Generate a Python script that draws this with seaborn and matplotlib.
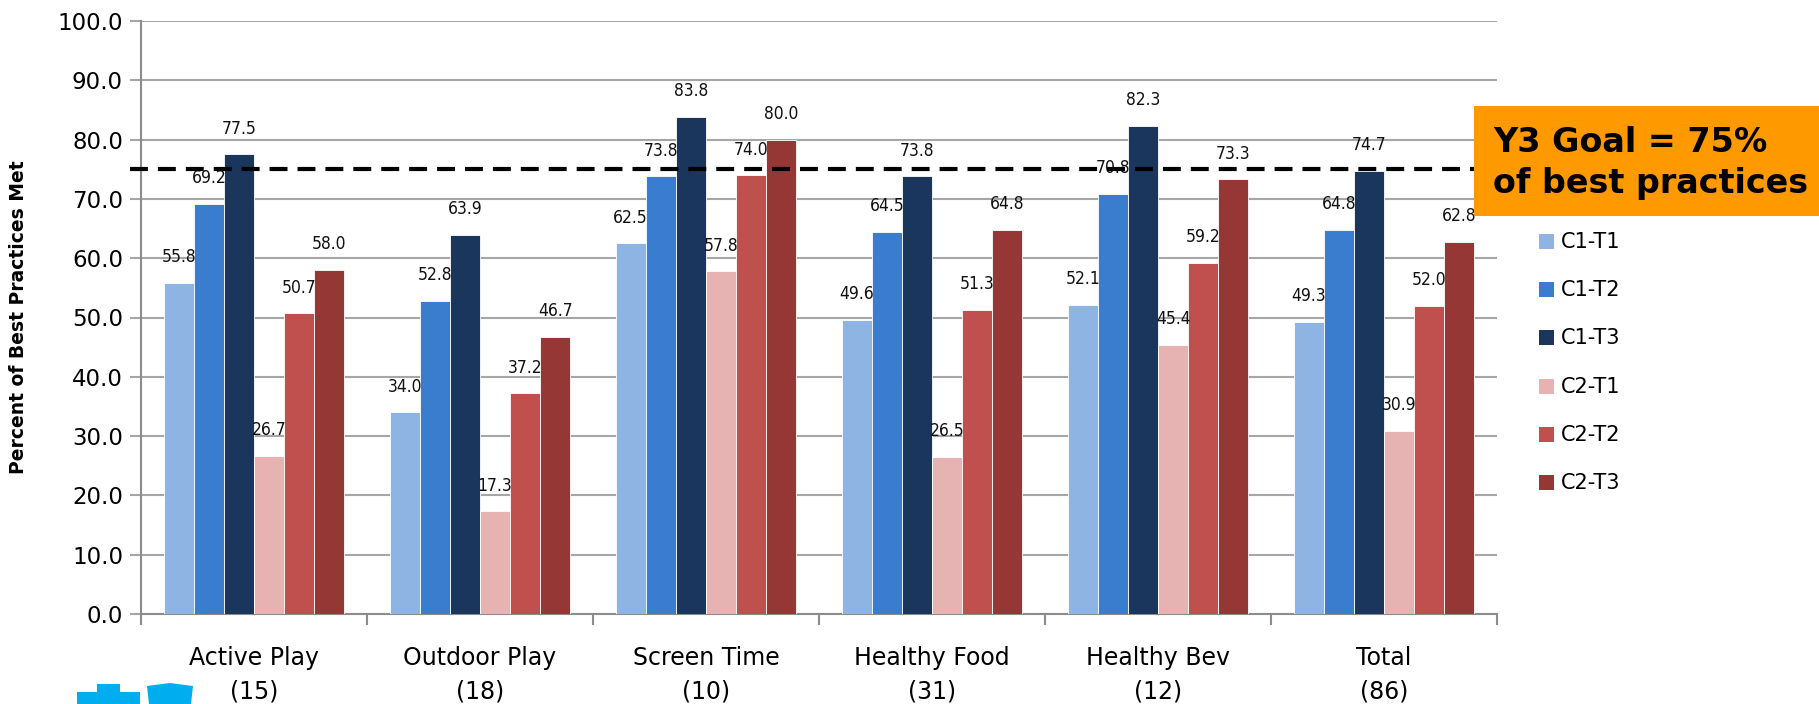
import matplotlib
matplotlib.use("Agg")
import matplotlib.pyplot as plt
from matplotlib.patches import Polygon, Rectangle
import seaborn as sns
import pandas as pd

categories = ["Active Play\n(15)", "Outdoor Play\n(18)", "Screen Time\n(10)",
              "Healthy Food\n(31)", "Healthy Bev\n(12)", "Total\n(86)"]
series = ["C1-T1", "C1-T2", "C1-T3", "C2-T1", "C2-T2", "C2-T3"]
c1_t1 = [55.8, 34.0, 62.5, 49.6, 52.1, 49.3]
c1_t2 = [69.2, 52.8, 73.8, 64.5, 70.8, 64.8]
c1_t3 = [77.5, 63.9, 83.8, 73.8, 82.3, 74.7]
c2_t1 = [26.7, 17.3, 57.8, 26.5, 45.4, 30.9]
c2_t2 = [50.7, 37.2, 74.0, 51.3, 59.2, 52.0]
c2_t3 = [58.0, 46.7, 80.0, 64.8, 73.3, 62.8]
goal = 75.0
palette = ["#8EB4E3", "#3A7DCE", "#1A365D", "#E6B3B2", "#C0504D", "#953735"]

rows = []
for name, vals in zip(series, [c1_t1, c1_t2, c1_t3, c2_t1, c2_t2, c2_t3]):
    for cat, v in zip(categories, vals):
        rows.append({"category": cat, "series": name, "value": v})
df = pd.DataFrame(rows)

sns.set_theme(style="white")
plt.rcParams["font.family"] = ["DejaVu Sans"]
plt.rcParams["text.color"] = "black"
plt.rcParams["axes.labelcolor"] = "black"
plt.rcParams["xtick.labelcolor"] = "black"
plt.rcParams["ytick.labelcolor"] = "black"

W, H = 1819, 704
fig = plt.figure(figsize=(W / 100, H / 100), dpi=100)
ax = fig.add_axes([141 / W, 1 - 614 / H, (1497 - 141) / W, (614 - 21) / H])

sns.barplot(data=df, x="category", y="value", hue="series", order=categories,
            hue_order=series, palette=palette, width=0.8, saturation=1,
            edgecolor="white", linewidth=0.6, ax=ax, legend=False, zorder=3)

for cont in ax.containers:
    ax.bar_label(cont, fmt="%.1f", padding=12, fontsize=12.5, color="#111111",
                 fontstretch="condensed", family=["DejaVu Sans"])

ax.set_ylim(0, 100)
ax.set_xlim(-0.5, len(categories) - 0.5)
ax.set_yticks(range(0, 101, 10))
ax.set_yticklabels([f"{t:.1f}" for t in range(0, 101, 10)], fontsize=16.5)
ax.yaxis.grid(True, color="#A6A6A6", linewidth=1.5, zorder=0)
ax.xaxis.grid(False)
for side in ["top", "right"]:
    ax.spines[side].set_visible(False)
for side in ["left", "bottom"]:
    ax.spines[side].set_color("#8C8C8C")
    ax.spines[side].set_linewidth(1.5)
ax.tick_params(axis="y", which="major", left=True, length=8, width=1.5,
               color="#A6A6A6", pad=5, labelcolor="black")
ax.tick_params(axis="x", which="major", bottom=False, labelsize=17, pad=17,
               labelcolor="black")
for lbl in ax.get_xticklabels():
    lbl.set_linespacing(1.5)
ax.set_xticks([i - 0.5 for i in range(len(categories) + 1)], minor=True)
ax.tick_params(axis="x", which="minor", bottom=True, length=8, width=1.5,
               color="#8C8C8C")
ax.set_xlabel("")
ax.set_ylabel("Percent of Best Practices Met", fontsize=13.5, fontweight="bold",
              labelpad=21, color="black")

# goal line with arrow head
ax.plot([-0.55, 5.75], [goal, goal], color="black",
        linestyle=(0, (4.3, 2.4)), linewidth=3, clip_on=False, zorder=5)
ax.annotate("", xy=(5.87, goal), xytext=(5.70, goal), xycoords="data",
            arrowprops=dict(arrowstyle="-|>,head_length=1.4,head_width=0.7",
                            color="black", lw=0), annotation_clip=False, zorder=6)

# goal callout
fig.patches.append(Rectangle((1474 / W, 1 - 216 / H), (W - 1474) / W, 110 / H,
                             transform=fig.transFigure, facecolor="#FF9900",
                             edgecolor="none", zorder=1))
fig.text(1493 / W, 1 - 163 / H, "Y3 Goal = 75%\nof best practices",
         fontsize=24, fontweight="bold", color="black", va="center", ha="left",
         linespacing=1.28, family=["DejaVu Sans"])

# legend
for i, (name, col) in enumerate(zip(series, palette)):
    y = 242 + i * 48.2
    fig.patches.append(Rectangle((1539 / W, 1 - (y + 7) / H), 15 / W, 15 / H,
                                 transform=fig.transFigure, facecolor=col,
                                 edgecolor="none"))
    fig.text(1561 / W, 1 - y / H, name, fontsize=15, va="center", ha="left",
             color="black")

# logo marks at the lower left
blue = "#00AEEF"
cross = [(97, 684), (120, 684), (120, 692), (140, 692), (140, 704), (77, 704),
         (77, 692), (97, 692)]
shield = [(147, 686), (170, 683), (193, 686), (191, 704), (149, 704)]
for shape in (cross, shield):
    fig.patches.append(Polygon([(x / W, 1 - y / H) for x, y in shape], closed=True,
                               transform=fig.transFigure, facecolor=blue,
                               edgecolor="none"))

fig.savefig("out.png", dpi=100)
